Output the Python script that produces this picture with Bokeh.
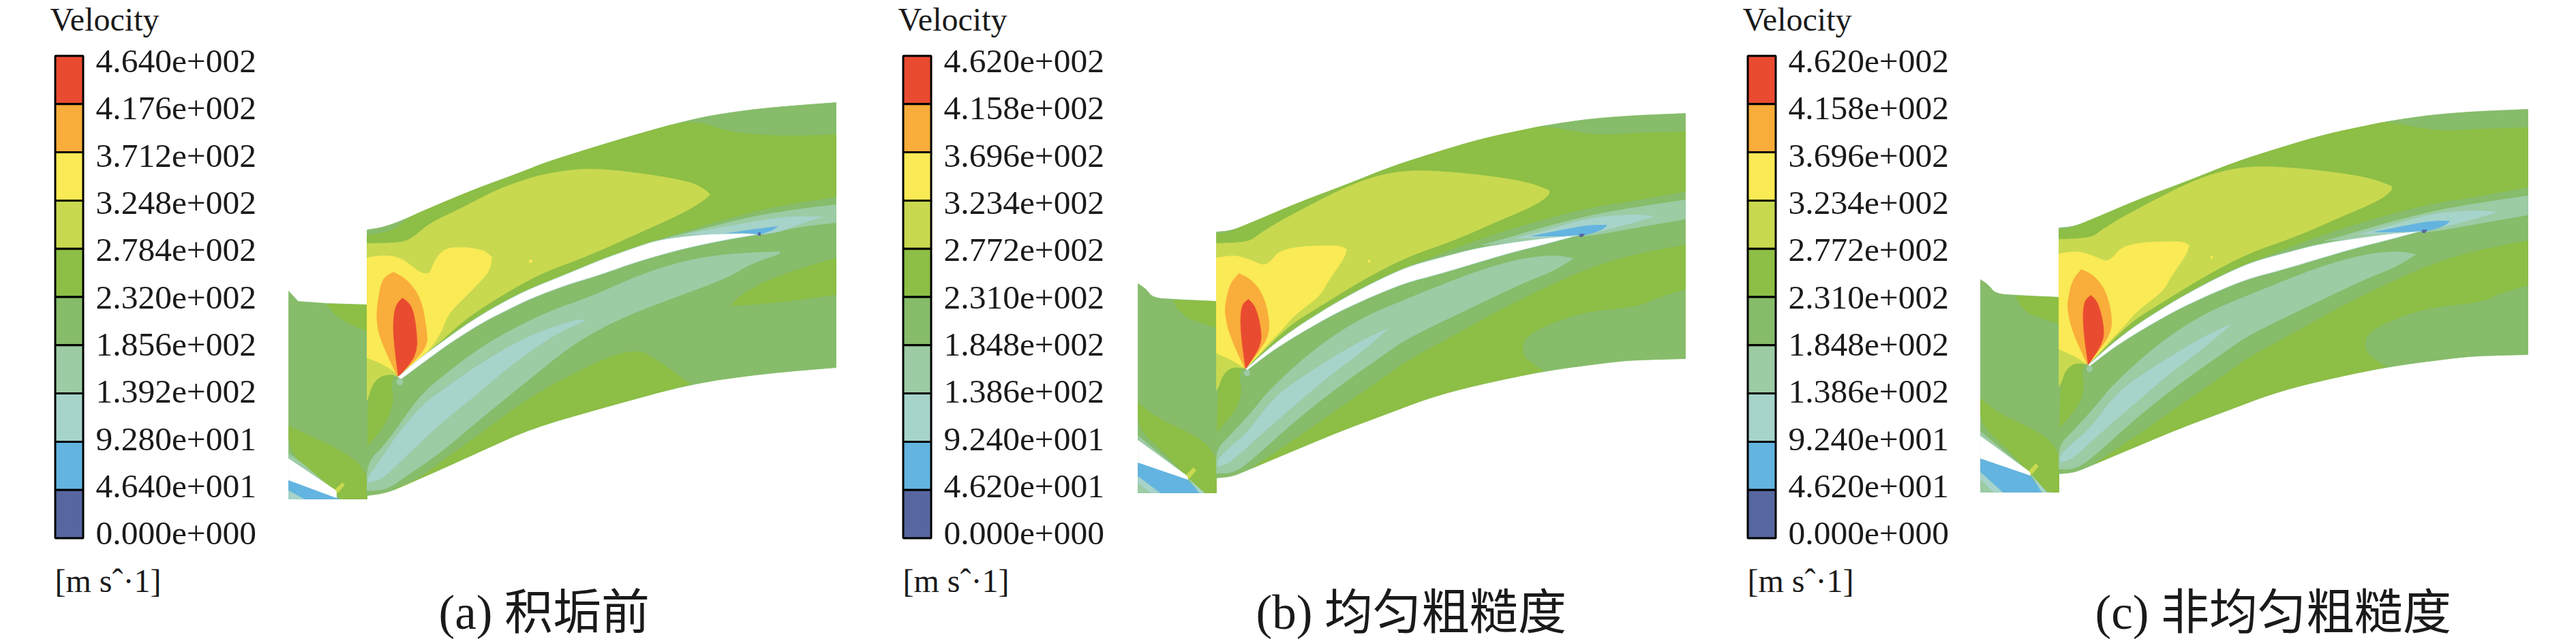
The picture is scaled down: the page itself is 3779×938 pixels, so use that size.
from bokeh.plotting import figure
from bokeh.models import Range1d, ColumnDataSource
from bokeh.core.properties import value
from bokeh.embed import file_html
from bokeh.resources import INLINE
import numpy as np

# ---------- legend data ----------
TITLE = "Velocity"
UNIT = "[m s\u02c6\u00b71]"
LABELS_A = ["4.640e+002","4.176e+002","3.712e+002","3.248e+002","2.784e+002","2.320e+002",
            "1.856e+002","1.392e+002","9.280e+001","4.640e+001","0.000e+000"]
LABELS_BC = ["4.620e+002","4.158e+002","3.696e+002","3.234e+002","2.772e+002","2.310e+002",
             "1.848e+002","1.386e+002","9.240e+001","4.620e+001","0.000e+000"]
VALUES_A = [float(s) for s in LABELS_A]
VALUES_BC = [float(s) for s in LABELS_BC]
BAND_COLORS = ["#56669F","#63B4E0","#A6D3CA","#9CCBA4","#86BC6A","#8DBE45","#C8D950","#FAEA55","#F9AD3A","#E94B30"]
WHITE = -1
CAPTIONS = ["(a) \u79ef\u57a2\u524d","(b) \u5747\u5300\u7c97\u7cd9\u5ea6","(c) \u975e\u5747\u5300\u7c97\u7cd9\u5ea6"]

# ---------- contour outlines, panel (a) ----------
A_LEFT = [(423,427),(437,442),(480,445),(538,447),(538,732),(423,732)]
A_LEFT_L5_TOP = [(478,446),(493,463),(513,475),(538,486),(538,447)]
A_LEFT_L5_LOW = [(423,625),(463,643),(503,663),(527,680),(538,700),(538,732),(498,732),(490,720),(447,690),(423,653)]
A_LEFT_L3 = [(423,665),(447,683),(490,720),(423,680)]
A_LEFT_GAP = [(423,673),(493,720),(493,731),(423,705)]
A_LEFT_L1 = [(423,705),(493,731),(498,732),(445,732),(423,720)]
A_LEFT_L2 = [(423,720),(445,732),(423,732)]
A_LEFT_STICK = [(491,718),(502,708),(505,711),(495,723)]
A_MAIN = [(538,337),(563,333),(597,320),(630,305),(697,277),(763,253),(800,238),(867,217),(933,197),
          (1013,175),(1067,165),(1133,157),(1226,150),(1226,539),(1119,548),(1012,563),(880,599),
          (780,628),(713,658),(647,688),(597,710),(567,723),(538,727)]
A_L5_UP = [(538,345),(570,340),(587,330),(598,319),(630,305),(697,277),(763,253),(800,238),(867,217),
           (933,197),(1013,175),(1067,192),(1087,195),(1150,200),(1226,197),(1226,288),(1133,303),
           (1067,320),(1000,340),(967,350),(880,385),(780,425),(713,460),(647,505),(583,553),(538,360)]
A_L6 = [(538,357),(590,356),(607,347),(630,327),(673,307),(730,277),(780,260),(800,255),(850,247),(900,249),
        (967,258),(1013,267),(1033,277),(1041,285),(1033,293),(1000,313),(933,343),(867,373),(800,398),
        (763,417),(713,447),(680,470),(643,503),(583,553),(560,551),(547,563),(538,587)]
A_L5_BLOB = [(539,587),(547,562),(560,551),(577,550),(573,567),(577,587),(570,610),(557,633),(539,653)]
A_L7 = [(538,378),(563,374),(587,378),(603,390),(620,402),(630,400),(640,377),(653,364),(680,362),(710,367),
        (721,377),(718,397),(700,417),(680,437),(657,460),(647,487),(627,517),(583,553),(577,543),(553,530),(538,525)]
A_L8 = [(577,399),(560,408),(553,447),(552,470),(557,497),(583,553),(627,510),(625,480),(617,437),(597,410)]
A_L9 = [(590,437),(580,447),(576,473),(578,507),(584,553),(612,520),(610,477),(603,447)]
A_L5_HUB = [(578,718),(613,703),(647,677),(713,630),(780,580),(880,528),(933,512),(962,527),(1012,563),
            (880,599),(780,628),(713,658),(647,688),(597,710)]
A_L5_RIGHT = [(1072,448),(1085,433),(1133,407),(1226,378),(1226,432),(1167,440),(1100,447)]
A_L3 = [(538,678),(567,650),(613,583),(647,553),(713,503),(800,458),(867,435),(933,405),(1000,383),(1067,372),
        (1143,369),(1143,372),(1100,387),(1067,407),(1000,432),(933,457),(883,480),(833,510),(780,553),
        (713,607),(647,663),(593,700),(567,718),(538,720)]
A_L2 = [(539,700),(553,682),(580,640),(620,593),(647,573),(713,527),(780,490),(847,468),(858,470),(813,490),
        (747,537),(697,580),(647,620),(597,667),(560,703),(539,708)]
A_WAKE_L3 = [(1226,300),(1167,307),(1100,318),(1033,335),(973,350),(1033,343),(1100,342),(1113,345),(1167,333),(1226,326)]
A_WAKE_L2 = [(1205,318),(1167,317),(1133,320),(1067,332),(1007,343),(1033,343),(1100,342),(1113,344),(1143,340),(1173,328)]
A_WAKE_L1 = [(1140,332),(1100,337),(1060,343),(1113,344),(1133,337)]
A_WAKE_L0 = [(1112,341),(1115,341),(1115,345),(1112,345)]
A_BLADE = [(583,553),(613,527),(647,502),(680,478),(713,457),(747,438),(780,422),(830,402),(880,381),(933,362),
           (967,351),(1033,343),(1100,342),(1110,344),(1067,351),(1000,365),(933,384),(880,403),(830,418),
           (780,437),(747,453),(713,470),(680,490),(647,512),(588,556)]
A_DOTS = [(586,560,3,10),(778,383,7,5),(684,366,7,3)]

# ---------- contour outlines, panel (c); panel (b) is read as the same field, offset ----------
C_LEFT = [(2905,410),(2917,418),(2927,431),(2960,433),(3020,436),(3020,722),(2905,722)]
C_LEFT_L5_TOP = [(2957,434),(2963,447),(2977,460),(3000,468),(3020,475),(3020,436)]
C_LEFT_L5_LOW = [(2905,585),(2933,607),(2967,623),(3000,640),(3015,657),(3020,670),(3020,722),(3003,722),(2980,697),(2943,657),(2905,622)]
C_LEFT_L3 = [(2905,633),(2937,660),(2977,693),(2905,648)]
C_LEFT_GAP = [(2905,640),(2978,693),(2978,698),(2905,673)]
C_LEFT_L1 = [(2905,673),(2978,698),(2995,722),(2937,722),(2905,693)]
C_LEFT_L2 = [(2905,693),(2937,722),(2905,722)]
C_LEFT_L2B = [(2980,697),(3002,722),(2995,722)]
C_LEFT_L3B = [(2905,703),(2923,722),(2905,722)]
C_LEFT_STICK = [(2976,691),(2986,680),(2990,684),(2980,696)]
C_MAIN = [(3020,334),(3043,332),(3077,318),(3143,290),(3210,265),(3277,238),(3343,217),(3410,197),(3477,183),
          (3500,178),(3567,168),(3633,163),(3708,160),(3708,520),(3633,522),(3600,525),(3500,538),(3400,559),
          (3333,577),(3267,602),(3200,627),(3133,655),(3067,683),(3043,693),(3020,695)]
C_L5_UP = [(3020,337),(3037,335),(3053,328),(3077,318),(3143,290),(3210,265),(3277,238),(3343,217),(3410,197),
           (3477,183),(3500,178),(3550,188),(3590,192),(3633,189),(3708,187),(3708,274),(3633,288),(3567,298),
           (3500,315),(3417,340),(3343,368),(3250,405),(3167,455),(3100,505),(3063,536),(3020,351)]
C_L6 = [(3020,351),(3067,349),(3083,337),(3110,320),(3153,297),(3210,268),(3260,250),(3310,243),(3377,247),
        (3443,255),(3483,263),(3508,273),(3508,280),(3487,295),(3433,318),(3367,347),(3300,370),(3233,405),
        (3167,446),(3133,467),(3107,490),(3063,535),(3047,533),(3033,540),(3025,557),(3020,567)]
C_L5_BLOB = [(3021,627),(3022,567),(3030,543),(3043,533),(3057,534),(3053,547),(3057,567),(3050,593),(3033,613)]
C_L7 = [(3020,372),(3047,368),(3070,375),(3087,383),(3097,380),(3117,357),(3200,353),(3211,360),(3207,373),
        (3183,407),(3173,427),(3133,457),(3117,477),(3097,497),(3063,535),(3043,522),(3020,512)]
C_L8 = [(3053,395),(3040,410),(3033,440),(3033,457),(3040,487),(3062,535),(3097,490),(3097,457),(3087,423),(3070,403)]
C_L9 = [(3067,433),(3058,440),(3055,460),(3057,493),(3063,535),(3086,500),(3085,473),(3077,443)]
C_L5_HUB = [(3073,680),(3133,640),(3200,593),(3267,547),(3300,523),(3367,487),(3433,450),(3500,417),(3567,387),
            (3633,367),(3708,353),(3708,418),(3667,430),(3640,443),(3567,450),(3517,465),(3473,487),(3468,507),
            (3473,520),(3500,538),(3400,559),(3333,577),(3267,602),(3200,627),(3133,655)]
C_L3 = [(3020,653),(3040,633),(3073,597),(3100,563),(3167,503),(3233,460),(3300,432),(3400,392),(3467,373),
        (3517,368),(3543,373),(3517,390),(3467,410),(3400,442),(3300,490),(3267,513),(3200,560),(3133,613),
        (3067,673),(3043,688),(3020,688)]
C_L2 = [(3022,678),(3022,667),(3040,650),(3067,627),(3107,573),(3167,533),(3233,493),(3272,476),(3233,510),
        (3183,547),(3133,590),(3083,633),(3040,673)]
C_WAKE_L3 = [(3708,287),(3633,298),(3567,310),(3500,327),(3433,347),(3410,353),(3450,350),(3510,342),(3550,339),
             (3567,340),(3633,328),(3708,315)]
C_WAKE_L2 = [(3662,311),(3633,308),(3567,313),(3500,333),(3460,343),(3510,342),(3550,339),(3583,333),(3633,320)]
C_WAKE_L1 = [(3593,324),(3567,324),(3533,330),(3483,340),(3550,340),(3567,337),(3587,330)]
C_WAKE_L0 = [(3553,337),(3560,337),(3557,341),(3553,341)]
C_BLADE = [(3063,535),(3100,502),(3133,477),(3167,455),(3200,435),(3250,408),(3300,385),(3343,373),(3400,358),
           (3450,350),(3510,342),(3550,339),(3510,350),(3450,365),(3400,380),(3343,397),(3300,408),(3250,428),
           (3200,451),(3167,469),(3133,489),(3100,510),(3065,537)]
C_DOTS = [(3065,541,3,9),(3244,377,7,4)]

# ---------- layout ----------
W, H = 3763, 938
LEG_X = [0, 1244, 2483]
BAR_L, BAR_R, BAR_TOP, BAR_BOTTOM = 80.5, 121.5, 81.5, 789.5
LABEL_X, LABEL_Y0, LABEL_DY = 140, 104.5, 69.3
CAPTION_X = [643, 1842, 3073]
CAPTION_Y = 920
OFF_B = (-1236, 6)
B_LEFT_BOTTOM = 723
MID = 0.30  # text centre above its baseline, in ems

p = figure(width=W, height=H, x_range=Range1d(0, W), y_range=Range1d(H, 0),
           x_axis_type=None, y_axis_type=None, toolbar_location=None, output_backend="svg",
           min_border=0, outline_line_color=None, background_fill_color="white",
           border_fill_color="white")
p.xgrid.visible = False
p.ygrid.visible = False


def smooth(pts, passes=2, max_turn=55):
    """Round the gentle bends of a closed outline; real corners stay sharp."""
    a = [np.array(q, dtype=float) for q in pts]
    for _ in range(passes):
        out, n = [], len(a)
        for i in range(n):
            prev, cur, nxt = a[i - 1], a[i], a[(i + 1) % n]
            u, v = cur - prev, nxt - cur
            nu, nv = np.hypot(*u), np.hypot(*v)
            if nu == 0 or nv == 0:
                out.append(cur)
                continue
            turn = np.degrees(np.arccos(np.clip(np.dot(u, v) / (nu * nv), -1, 1)))
            if turn < max_turn:
                out.append(cur - u * 0.25)
                out.append(cur + v * 0.25)
            else:
                out.append(cur)
        a = out
    return np.array(a)


def draw(regions, dx=0, dy=0, clamp=None):
    xs, ys, fills = [], [], []
    for band, pts in regions:
        a = smooth(pts) if len(pts) > 6 else np.array(pts, dtype=float)
        x, y = a[:, 0] + dx, a[:, 1] + dy
        if clamp is not None:
            y = np.minimum(y, clamp)
        xs.append(list(x))
        ys.append(list(y))
        fills.append("#FFFFFF" if band == WHITE else BAND_COLORS[band])
    p.patches(xs, ys, fill_color=fills, line_color=fills, line_width=0.8)


A_REGIONS = [(4, A_LEFT), (5, A_LEFT_L5_TOP), (5, A_LEFT_L5_LOW), (3, A_LEFT_L3), (WHITE, A_LEFT_GAP),
             (1, A_LEFT_L1), (2, A_LEFT_L2), (6, A_LEFT_STICK),
             (4, A_MAIN), (5, A_L5_UP), (5, A_L5_HUB), (5, A_L5_RIGHT), (3, A_L3), (2, A_L2),
             (6, A_L6), (5, A_L5_BLOB), (7, A_L7), (8, A_L8), (9, A_L9),
             (3, A_WAKE_L3), (2, A_WAKE_L2), (1, A_WAKE_L1), (0, A_WAKE_L0)]
C_LEFT_REGIONS = [(4, C_LEFT), (5, C_LEFT_L5_TOP), (5, C_LEFT_L5_LOW), (3, C_LEFT_L3), (WHITE, C_LEFT_GAP),
                  (1, C_LEFT_L1), (2, C_LEFT_L2), (3, C_LEFT_L3B), (2, C_LEFT_L2B), (6, C_LEFT_STICK)]
C_REGIONS = [(4, C_MAIN), (5, C_L5_UP), (5, C_L5_HUB), (3, C_L3), (2, C_L2),
             (6, C_L6), (5, C_L5_BLOB), (7, C_L7), (8, C_L8), (9, C_L9),
             (3, C_WAKE_L3), (2, C_WAKE_L2), (1, C_WAKE_L1), (0, C_WAKE_L0)]


def blade(pts, dx=0, dy=0):
    a = smooth(pts)
    p.patch(a[:, 0] + dx, a[:, 1] + dy, fill_color="#FFFFFF", line_color=BAND_COLORS[2], line_width=0.8)


def dots(items, dx=0, dy=0):
    for x, y, band, size in items:
        p.scatter([x + dx], [y + dy], size=size, marker="circle", fill_color=BAND_COLORS[band], line_color=None)


draw(A_REGIONS); blade(A_BLADE); dots(A_DOTS)
draw(C_LEFT_REGIONS, OFF_B[0], OFF_B[1], clamp=B_LEFT_BOTTOM)
draw(C_REGIONS, OFF_B[0], OFF_B[1]); blade(C_BLADE, OFF_B[0], OFF_B[1]); dots(C_DOTS, OFF_B[0], OFF_B[1])
draw(C_LEFT_REGIONS); draw(C_REGIONS); blade(C_BLADE); dots(C_DOTS)


def text(xs, ys, strs, size, font="Liberation Serif"):
    ys = [y - MID * size for y in ys]
    p.text(xs, ys, text=strs, text_font=value(font), text_font_size=value(f"{size}px"),
           text_color="#1A1A1A", text_baseline="middle", text_align="left")


def legend(shift, values, labels):
    top = max(values)
    to_y = lambda v: BAR_BOTTOM - (v / top) * (BAR_BOTTOM - BAR_TOP)
    low, high = values[1:], values[:-1]
    p.quad(left=BAR_L + shift, right=BAR_R + shift, top=[to_y(v) for v in high], bottom=[to_y(v) for v in low],
           fill_color=BAND_COLORS[::-1], line_color="#000000", line_width=3)
    text([LABEL_X + shift] * len(labels), [LABEL_Y0 + LABEL_DY * i for i in range(len(labels))], labels, 49.5)
    text([73 + shift], [42], [TITLE], 48)
    text([80 + shift], [866], [UNIT], 48)


legend(LEG_X[0], VALUES_A, LABELS_A)
legend(LEG_X[1], VALUES_BC, LABELS_BC)
legend(LEG_X[2], VALUES_BC, LABELS_BC)
text(CAPTION_X, [CAPTION_Y] * 3, CAPTIONS, 71, "Liberation Serif, Noto Sans CJK SC")

open("out.html", "w").write(file_html(p, INLINE))
